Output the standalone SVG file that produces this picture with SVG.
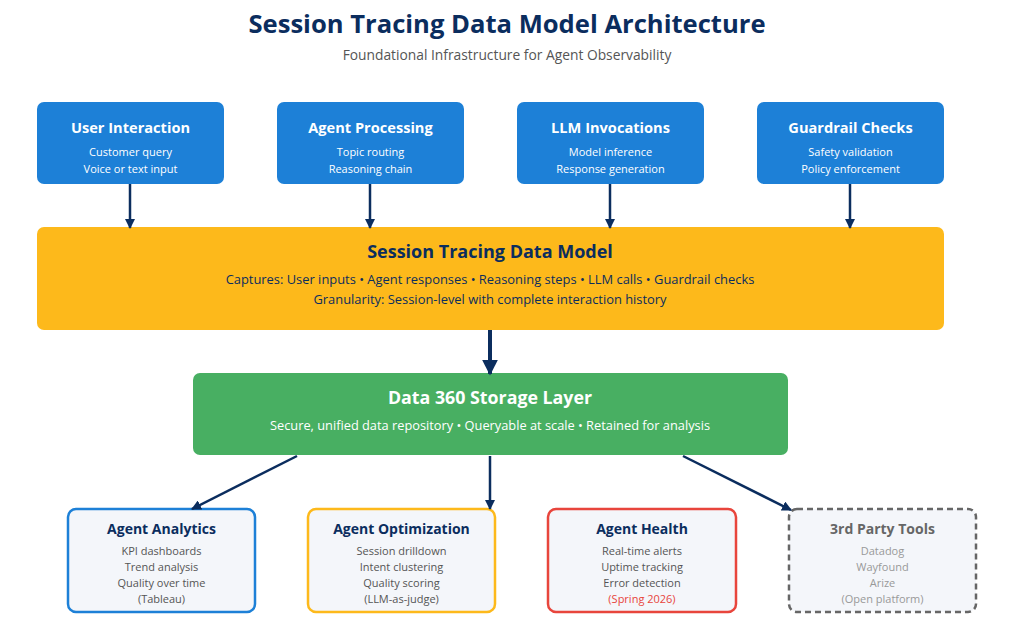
<svg xmlns="http://www.w3.org/2000/svg" width="1024" height="627" viewBox="0 0 1024 627">
<style>
text{font-family:"Segoe UI","Open Sans","Noto Sans",sans-serif;text-anchor:middle}
.t{font-size:25.6px;font-weight:700;fill:#0b2d5e}
.sub{font-size:13.8px;fill:#555}
.top rect{fill:#1d80d7}
.th{font-size:14.6px;font-weight:700;fill:#fff}
.tl{font-size:11px;fill:#fff}
.yh{font-size:18px;font-weight:700;fill:#0b2d5e}
.yl{font-size:12.9px;fill:#0b2d5e}
.gh{font-size:17.8px;font-weight:700;fill:#fff}
.gl{font-size:12.8px;fill:#fff}
.bh{font-size:14px;font-weight:700;fill:#0b2d5e}
.bl{font-size:11px;fill:#555}
.bot rect{fill:#f4f6fa;stroke-width:2.5}
.c line{stroke:#0b2d5e;stroke-width:2.5}
</style>
<defs>
<marker id="ah" viewBox="0 0 10 10" refX="9" refY="5" markerWidth="4" markerHeight="4" markerUnits="strokeWidth" orient="auto"><path d="M0,0L10,5L0,10z" fill="#0b2d5e"/></marker>
</defs>
<rect width="1024" height="627" fill="#fff"/>
<text class="t" x="507" y="33">Session Tracing Data Model Architecture</text>
<text class="sub" x="507" y="60">Foundational Infrastructure for Agent Observability</text>

<g id="user-interaction" class="top"><rect x="37" y="102" width="187" height="82" rx="7"/><text class="th" x="130.5" y="133">User Interaction</text><text class="tl" x="130.5" y="156">Customer query</text><text class="tl" x="130.5" y="173">Voice or text input</text></g>
<g id="agent-processing" class="top"><rect x="277" y="102" width="187" height="82" rx="7"/><text class="th" x="370.5" y="133">Agent Processing</text><text class="tl" x="370.5" y="156">Topic routing</text><text class="tl" x="370.5" y="173">Reasoning chain</text></g>
<g id="llm-invocations" class="top"><rect x="517" y="102" width="187" height="82" rx="7"/><text class="th" x="610.5" y="133">LLM Invocations</text><text class="tl" x="610.5" y="156">Model inference</text><text class="tl" x="610.5" y="173">Response generation</text></g>
<g id="guardrail-checks" class="top"><rect x="757" y="102" width="187" height="82" rx="7"/><text class="th" x="850.5" y="133">Guardrail Checks</text><text class="tl" x="850.5" y="156">Safety validation</text><text class="tl" x="850.5" y="173">Policy enforcement</text></g>

<g id="session-tracing"><rect x="37" y="227" width="907" height="103" rx="7" fill="#fdb91b"/><text class="yh" x="490" y="258">Session Tracing Data Model</text><text class="yl" x="490" y="284">Captures: User inputs • Agent responses • Reasoning steps • LLM calls • Guardrail checks</text><text class="yl" x="490" y="304">Granularity: Session-level with complete interaction history</text></g>

<g id="data-360"><rect x="193" y="373" width="595" height="82" rx="7" fill="#48af62"/><text class="gh" x="490" y="404">Data 360 Storage Layer</text><text class="gl" x="490" y="430">Secure, unified data repository • Queryable at scale • Retained for analysis</text></g>

<g id="agent-analytics" class="bot"><rect x="68" y="509" width="187" height="103" rx="8" stroke="#1d80d7"/><text class="bh" x="161.5" y="534">Agent Analytics</text><text class="bl" x="161.5" y="555">KPI dashboards</text><text class="bl" x="161.5" y="571">Trend analysis</text><text class="bl" x="161.5" y="587">Quality over time</text><text class="bl" x="161.5" y="603">(Tableau)</text></g>
<g id="agent-optimization" class="bot"><rect x="308" y="509" width="187" height="103" rx="8" stroke="#fdb91b"/><text class="bh" x="401.5" y="534">Agent Optimization</text><text class="bl" x="401.5" y="555">Session drilldown</text><text class="bl" x="401.5" y="571">Intent clustering</text><text class="bl" x="401.5" y="587">Quality scoring</text><text class="bl" x="401.5" y="603">(LLM-as-judge)</text></g>
<g id="agent-health" class="bot"><rect x="548" y="509" width="188" height="103" rx="8" stroke="#e8453c"/><text class="bh" x="642" y="534">Agent Health</text><text class="bl" x="642" y="555">Real-time alerts</text><text class="bl" x="642" y="571">Uptime tracking</text><text class="bl" x="642" y="587">Error detection</text><text class="bl" x="642" y="603" style="fill:#e8453c">(Spring 2026)</text></g>
<g id="third-party" class="bot"><rect x="789" y="509" width="187" height="103" rx="8" stroke="#666" stroke-dasharray="6,4"/><text class="bh" x="882.5" y="534" style="fill:#666">3rd Party Tools</text><text class="bl" x="882.5" y="555" style="fill:#999">Datadog</text><text class="bl" x="882.5" y="571" style="fill:#999">Wayfound</text><text class="bl" x="882.5" y="587" style="fill:#999">Arize</text><text class="bl" x="882.5" y="603" style="fill:#999">(Open platform)</text></g>

<g id="connectors" class="c">
<line x1="130" y1="184" x2="130" y2="228" marker-end="url(#ah)"/>
<line x1="370" y1="184" x2="370" y2="228" marker-end="url(#ah)"/>
<line x1="610" y1="184" x2="610" y2="228" marker-end="url(#ah)"/>
<line x1="850" y1="184" x2="850" y2="228" marker-end="url(#ah)"/>
<line x1="490" y1="330" x2="490" y2="374" marker-end="url(#ah)" style="stroke-width:4"/>
<line x1="297" y1="456" x2="192" y2="509" marker-end="url(#ah)"/>
<line x1="490" y1="456" x2="490" y2="509" marker-end="url(#ah)"/>
<line x1="683" y1="456" x2="791" y2="510" marker-end="url(#ah)"/>
</g>
</svg>
